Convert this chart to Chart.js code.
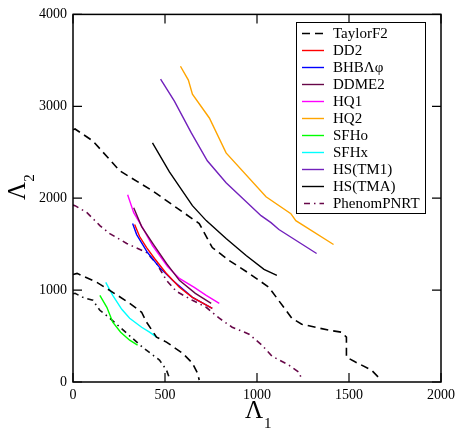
<!DOCTYPE html>
<html>
<head>
<meta charset="utf-8">
<script src="https://cdn.jsdelivr.net/npm/chart.js@4/dist/chart.umd.min.js"></script>
<style>
  html, body { margin: 0; padding: 0; background: #fff; }
  #wrap { width: 460px; height: 429px; position: relative; }
</style>
</head>
<body>
<div id="wrap"><canvas id="c" width="460" height="429"></canvas></div>
<script>
// Axis ranges and tick steps
const xTicks = [0, 500, 1000, 1500, 2000];
const yTicks = [0, 1000, 2000, 3000, 4000];

// Lambda_1, Lambda_2 contour points
const taylorUpper = [[0,2745],[11,2753],[108,2623],[254,2298],[432,2081],[562,1897],[686,1724],[757,1463],[849,1322],[957,1182],[1065,1030],[1189,694],[1243,629],[1389,564],[1459,542],[1486,488],[1486,271],[1535,217],[1622,130],[1659,54]];
const taylorLower = [[0,1170],[22,1182],[130,1084],[216,976],[308,856],[373,759],[400,650],[454,488],[508,434],[595,314],[649,206],[676,98],[686,22]];
const phenomUpper = [[0,1925],[11,1919],[76,1843],[146,1702],[200,1615],[292,1507],[400,1409],[454,1290],[508,1106],[562,986],[649,889],[724,813],[795,694],[865,596],[957,520],[1027,401],[1081,282],[1173,184],[1227,108],[1243,33]];
const phenomLower = [[0,960],[11,965],[54,921],[108,889],[146,780],[200,694],[292,531],[378,379],[470,238],[508,130],[524,43]];
const dd2 = [[335,1713],[362,1583],[400,1463],[443,1344],[503,1192],[578,1030],[649,921],[757,802]];
const bhb = [[324,1724],[346,1604],[405,1409],[470,1247],[541,1106],[649,921],[757,802]];
const ddme2 = [[330,1897],[373,1691],[438,1496],[508,1290],[578,1106],[665,965],[751,856]];
const hq1 = [[297,2038],[330,1843],[378,1680],[432,1485],[514,1257],[578,1127],[659,1030],[724,943],[795,856]];
const hq2 = [[584,3436],[627,3285],[649,3133],[741,2873],[832,2493],[1049,2016],[1184,1832],[1211,1756],[1416,1496]];
const sfho = [[146,943],[184,813],[216,650],[259,542],[308,455],[351,401]];
const sfhx = [[178,1084],[216,943],[265,791],[308,694],[373,596],[416,542],[454,488]];
const hsTM1 = [[476,3295],[551,3057],[643,2710],[730,2407],[832,2168],[1022,1810],[1076,1734],[1119,1659],[1324,1398]];
const hsTMA = [[432,2602],[524,2287],[649,1919],[724,1756],[832,1561],[941,1377],[1038,1225],[1108,1160]];

const DASH = [8, 5];
const DASHDOT = [6, 4, 1.5, 4];
const MAROON = '#670748';

function pts(arr) { return arr.map(p => ({ x: p[0], y: p[1] })); }
function ds(label, data, color, dash, legend) {
  return { label, data: pts(data), borderColor: color, backgroundColor: color,
           borderWidth: dash ? 1.6 : 1.4, borderDash: dash || [], pointRadius: 0,
           tension: 0, fill: false, inLegend: legend !== false };
}

const datasets = [
  ds('TaylorF2', taylorUpper, '#000000', DASH),
  ds('TaylorF2 (lower)', taylorLower, '#000000', DASH, false),
  ds('DD2', dd2, '#ff0000'),
  ds('BHB\u039B\u03C6', bhb, '#0000ff'),
  ds('DDME2', ddme2, MAROON),
  ds('HQ1', hq1, '#ff00ff'),
  ds('HQ2', hq2, '#ffa500'),
  ds('SFHo', sfho, '#00ff00'),
  ds('SFHx', sfhx, '#00ffff'),
  ds('HS(TM1)', hsTM1, '#7221bc'),
  ds('HS(TMA)', hsTMA, '#000000'),
  ds('PhenomPNRT', phenomUpper, MAROON, DASHDOT),
  ds('PhenomPNRT (lower)', phenomLower, '#111111', DASHDOT, false)
];

const SERIF = '"Liberation Serif", "Times New Roman", serif';

// Frame, inward tick marks, legend box and axis titles
const decor = {
  id: 'decor',
  afterDraw(chart) {
    const ctx = chart.ctx;
    const a = chart.chartArea;
    const xs = chart.scales.x, ys = chart.scales.y;
    ctx.save();
    ctx.strokeStyle = '#000';
    ctx.lineWidth = 1.5;
    ctx.setLineDash([]);
    ctx.strokeRect(a.left, a.top, a.right - a.left, a.bottom - a.top);
    const TL = 9;
    ctx.lineWidth = 1.2;
    ctx.beginPath();
    xTicks.forEach(v => {
      const px = xs.getPixelForValue(v);
      ctx.moveTo(px, a.bottom); ctx.lineTo(px, a.bottom - TL);
      ctx.moveTo(px, a.top); ctx.lineTo(px, a.top + TL);
    });
    yTicks.forEach(v => {
      const py = ys.getPixelForValue(v);
      ctx.moveTo(a.left, py); ctx.lineTo(a.left + TL, py);
      ctx.moveTo(a.right, py); ctx.lineTo(a.right - TL, py);
    });
    ctx.stroke();

    // legend
    const items = chart.data.datasets.filter(d => d.inLegend);
    const bx = 296, by = 22, bw = 129, bh = 191;
    ctx.fillStyle = '#fff';
    ctx.fillRect(bx, by, bw, bh);
    ctx.lineWidth = 1;
    ctx.strokeStyle = '#000';
    ctx.strokeRect(bx + 0.5, by + 0.5, bw, bh);
    ctx.font = '15px ' + SERIF;
    ctx.textBaseline = 'middle';
    ctx.textAlign = 'left';
    const y0 = 33.3, step = 16.94;
    items.forEach((d, i) => {
      const y = Math.round(y0 + i * step) + 0.5;
      ctx.strokeStyle = d.borderColor;
      ctx.lineWidth = d.borderWidth;
      ctx.setLineDash(d.borderDash);
      ctx.lineDashOffset = d.borderDash.length === 4 ? -2 : 0;
      ctx.beginPath();
      ctx.moveTo(302, y); ctx.lineTo(324, y);
      ctx.stroke();
      ctx.setLineDash([]);
      ctx.fillStyle = '#000';
      ctx.fillText(d.label, 333, y + 1);
    });

    // axis titles
    ctx.fillStyle = '#000';
    ctx.textBaseline = 'alphabetic';
    ctx.textAlign = 'left';
    ctx.font = '25px ' + SERIF;
    ctx.fillText('\u039B', 245, 418);
    ctx.font = '15px ' + SERIF;
    ctx.fillText('1', 264, 428);

    ctx.translate(25, 200);
    ctx.rotate(-Math.PI / 2);
    ctx.font = '25px ' + SERIF;
    ctx.fillText('\u039B', 0, 0);
    const w = ctx.measureText('\u039B').width;
    ctx.font = '15px ' + SERIF;
    ctx.fillText('2', w, 9);
    ctx.restore();
  }
};

const plain = v => String(v);

new Chart(document.getElementById('c'), {
  type: 'line',
  data: { datasets },
  options: {
    responsive: false,
    animation: false,
    devicePixelRatio: 1,
    layout: { padding: { left: 0, top: 13, right: 17, bottom: 0 } },
    plugins: { legend: { display: false }, tooltip: { enabled: false } },
    scales: {
      x: {
        type: 'linear', min: 0, max: 2000,
        afterFit(s) { s.height = 47; },
        afterBuildTicks(s) { s.ticks = xTicks.map(v => ({ value: v })); },
        grid: { display: false, drawTicks: false },
        border: { display: false },
        ticks: { padding: 5, color: '#000', font: { family: SERIF, size: 14 }, maxRotation: 0, callback: plain }
      },
      y: {
        type: 'linear', min: 0, max: 4000,
        afterFit(s) { s.width = 73; },
        afterBuildTicks(s) { s.ticks = yTicks.map(v => ({ value: v })); },
        grid: { display: false, drawTicks: false },
        border: { display: false },
        ticks: { padding: 6, color: '#000', font: { family: SERIF, size: 14 }, callback: plain }
      }
    }
  },
  plugins: [decor]
});
</script>
</body>
</html>
